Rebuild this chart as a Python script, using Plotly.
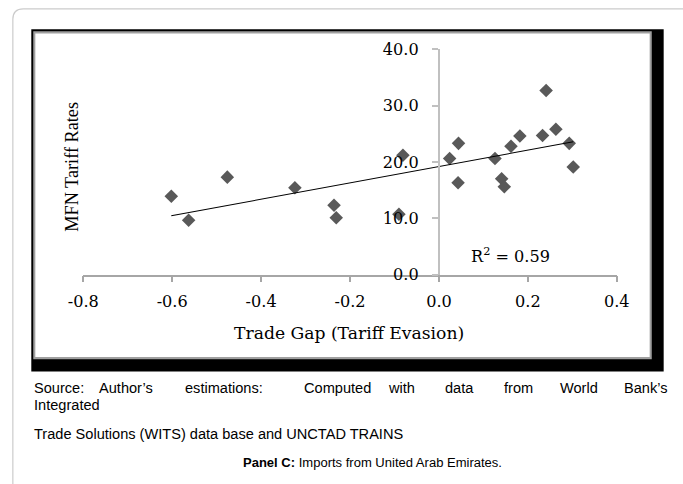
import numpy as np
import plotly.graph_objects as go

# ---- data ----
trade_gap = [-0.602, -0.563, -0.476, -0.324, -0.236, -0.231, -0.090, -0.081,
             0.024, 0.044, 0.043, 0.126, 0.141, 0.147, 0.162, 0.182,
             0.233, 0.241, 0.263, 0.293, 0.302]
mfn_tariff = [13.9, 9.65, 17.3, 15.4, 12.3, 10.1, 10.7, 21.2,
              20.6, 23.3, 16.3, 20.6, 17.0, 15.6, 22.8, 24.6,
              24.7, 32.7, 25.8, 23.3, 19.1]
x_tick_vals = [-0.8, -0.6, -0.4, -0.2, 0.0, 0.2, 0.4]
x_tick_text = ["-0.8", "-0.6", "-0.4", "-0.2", "0.0", "0.2", "0.4"]
y_tick_vals = [0, 10, 20, 30, 40]
y_tick_text = ["0.0", "10.0", "20.0", "30.0", "40.0"]
r2_text = "R<sup>2</sup> = 0.59"
x_title = "Trade Gap (Tariff Evasion)"
y_title = "MFN Tariff Rates"
source_words = ["Source:", "Author\u2019s", "estimations:", "Computed", "with",
                "data", "from", "World", "Bank\u2019s"]
source_line2 = "Integrated"
source_line3 = "Trade Solutions (WITS) data base and UNCTAD TRAINS"
caption = "<b>Panel C:</b> Imports from United Arab Emirates."

# ---- layout helpers: positions given in reference-picture pixels ----
W, H = 683, 484
S = 0.96                      # the photographed page appears scaled by this
OX, OY = W * (1 - S) / 2, H * (1 - S) / 2
def fx(px):
    return ((px - OX) / S) / W
def fy(py):
    return 1 - ((py - OY) / S) / H
def fs(v):
    return v / S

slope, intercept = np.polyfit(trade_gap, mfn_tariff, 1)
lx = np.array([min(trade_gap), max(trade_gap)])
ly = slope * lx + intercept

fig = go.Figure()
fig.add_trace(go.Scatter(x=trade_gap, y=mfn_tariff, mode="markers",
                         marker=dict(symbol="diamond", size=fs(10), color="#595959"),
                         showlegend=False, cliponaxis=False))
fig.add_trace(go.Scatter(x=lx, y=ly, mode="lines",
                         line=dict(color="#000000", width=fs(1)),
                         showlegend=False))

serif = "DejaVu Serif"
sans = "Liberation Sans"

fig.update_layout(
    width=W, height=H,
    margin=dict(l=0, r=0, t=0, b=0),
    paper_bgcolor="white",
    plot_bgcolor="rgba(0,0,0,0)",
    xaxis=dict(domain=[fx(81.1), fx(616.0)], range=[-0.8, 0.4],
               tickvals=x_tick_vals, ticktext=x_tick_text,
               showline=True, linecolor="#a6a6a6", linewidth=fs(1.5),
               ticks="outside", ticklen=fs(5), tickcolor="#a6a6a6", tickwidth=fs(1.5),
               showgrid=False, zeroline=False,
               tickfont=dict(family=serif, size=fs(15.5), color="#000"),
               ticklabelstandoff=6),
    yaxis=dict(domain=[fy(275), fy(50)], range=[0, 40],
               anchor="free", position=fx(437.7),
               tickvals=y_tick_vals, ticktext=y_tick_text,
               showline=True, linecolor="#c0c0c0", linewidth=fs(1.5),
               ticks="outside", ticklen=fs(6), tickcolor="#c0c0c0", tickwidth=fs(1.5),
               showgrid=False, zeroline=False,
               tickfont=dict(family=serif, size=fs(15.5), color="#000"),
               ticklabelstandoff=10),
)

shapes = []
path = (f"M {fx(10.5)},{fy(490)} L {fx(10.5)},{fy(20)} "
        f"Q {fx(10.5)},{fy(9.5)} {fx(21)},{fy(9.5)} L {fx(700)},{fy(9.5)}")
shapes.append(dict(type="path", xref="paper", yref="paper", path=path,
                   line=dict(color="#cccccc", width=1.2), layer="below"))
shapes.append(dict(type="rect", xref="paper", yref="paper",
                   x0=fx(29), y0=fy(372), x1=fx(663), y1=fy(30),
                   fillcolor="#000000", line=dict(width=0), layer="below"))
shapes.append(dict(type="rect", xref="paper", yref="paper",
                   x0=fx(32), y0=fy(358.5), x1=fx(650), y1=fy(33),
                   fillcolor="#ffffff", line=dict(color="#a0a0a0", width=fs(2)),
                   layer="below"))
fig.update_layout(shapes=shapes)

ann = []
ann.append(dict(text=x_title, xref="paper", yref="paper", x=fx(348), y=fy(333),
                showarrow=False, font=dict(family=serif, size=fs(16.5), color="#000"),
                xanchor="center", yanchor="middle"))
ann.append(dict(text=y_title, xref="paper", yref="paper", x=fx(70), y=fy(167),
                showarrow=False, textangle=-90,
                font=dict(family="Liberation Serif", size=fs(17.5), color="#000"),
                xanchor="center", yanchor="middle"))
ann.append(dict(text=r2_text, xref="paper", yref="paper", x=fx(509), y=fy(256),
                showarrow=False, font=dict(family=serif, size=fs(15.5), color="#000"),
                xanchor="center", yanchor="middle"))
word_x = [30, 95, 181, 300, 385, 442, 501, 557, 621]
for wx, wd in zip(word_x, source_words):
    ann.append(dict(text=wd, xref="paper", yref="paper", x=fx(wx), y=fy(388),
                    showarrow=False, font=dict(family=sans, size=fs(14), color="#000"),
                    xanchor="left", yanchor="middle"))
ann.append(dict(text=source_line2, xref="paper", yref="paper", x=fx(30), y=fy(405),
                showarrow=False, font=dict(family=sans, size=fs(14), color="#000"),
                xanchor="left", yanchor="middle"))
ann.append(dict(text=source_line3, xref="paper", yref="paper", x=fx(30), y=fy(434),
                showarrow=False, font=dict(family=sans, size=fs(14), color="#000"),
                xanchor="left", yanchor="middle"))
ann.append(dict(text=caption, xref="paper", yref="paper", x=fx(371), y=fy(463),
                showarrow=False, font=dict(family=sans, size=fs(12.5), color="#000"),
                xanchor="center", yanchor="middle"))
fig.update_layout(annotations=ann)

post = """
document.documentElement.style.margin='0';
document.body.style.margin='0';
document.body.style.overflow='hidden';
"""
fig.write_html("out.html", config={"displayModeBar": False}, post_script=post)
